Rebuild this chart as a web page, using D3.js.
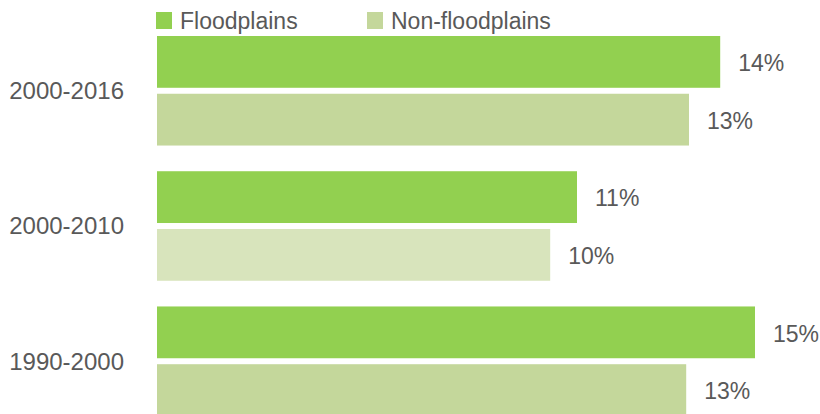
<!DOCTYPE html>
<html lang="en">
<head>
    <meta charset="UTF-8">
    <title>Floodplains vs Non-floodplains</title>
    <style>
        body { margin: 0; background: #fff; }
        text { font-family: "Liberation Sans", Arial, sans-serif; fill: #595959; }
    </style>
</head>
<body>
    <div class="graph-container"></div>

    <script type="text/javascript" src="https://d3js.org/d3.v7.min.js"></script>
    <script type="text/javascript">
        // Data.
        var periods = ["2000-2016", "2000-2010", "1990-2000"];
        var seriesNames = ["Floodplains", "Non-floodplains"];
        var floodplains = [14.08, 10.5, 14.95];
        var nonFloodplains = [13.3, 9.83, 13.23];

        var canvasWidth = 820;
        var canvasHeight = 414;
        var fontSize = 23;

        var colors = {
            "Floodplains": "#92d050",
            "Non-floodplains": "#c4d79b"
        };
        // The 2000-2010 non-floodplain bar is a paler shade in the original.
        var paleNonFlood = "#d8e4bc";

        var rows = periods.map(function(p, i) {
            return { period: p, values: [floodplains[i], nonFloodplains[i]] };
        });

        var svgCanvas = d3.select(".graph-container")
            .append("svg")
            .attr("width", canvasWidth)
            .attr("height", canvasHeight);

        var x = d3.scaleLinear()
            .domain([0, 15])
            .range([157, 757]);

        // One band per period, 110px tall (two 52px bars and a 6px gap).
        var y = d3.scaleBand()
            .domain(periods)
            .range([36, 416])
            .paddingInner(0.19)
            .paddingOuter(0);

        var ySub = d3.scaleBand()
            .domain(seriesNames)
            .range([0, y.bandwidth()])
            .paddingInner(0.1034);

        var groups = svgCanvas.append("g")
            .attr("class", "bars")
            .selectAll("g")
            .data(rows)
            .enter()
                .append("g")
                .attr("transform", function(d) { return "translate(0," + y(d.period) + ")"; });

        var cells = groups.selectAll("g")
            .data(function(d) {
                return d.values.map(function(v, i) {
                    return { period: d.period, series: seriesNames[i], value: v };
                });
            })
            .enter()
                .append("g");

        cells.append("rect")
            .attr("x", x(0))
            .attr("y", function(d) { return ySub(d.series); })
            .attr("width", function(d) { return x(d.value) - x(0); })
            .attr("height", ySub.bandwidth())
            .attr("fill", function(d) {
                if (d.period === "2000-2010" && d.series === "Non-floodplains") return paleNonFlood;
                return colors[d.series];
            });

        cells.append("text")
            .attr("x", function(d) { return x(d.value) + 18; })
            .attr("y", function(d) { return ySub(d.series) + ySub.bandwidth() / 2; })
            .attr("dy", "0.4em")
            .style("font-size", fontSize + "px")
            .text(function(d) { return Math.round(d.value) + "%"; });

        // Category labels on the left.
        svgCanvas.append("g")
            .attr("class", "categories")
            .selectAll("text")
            .data(periods)
            .enter()
                .append("text")
                .attr("x", 124)
                .attr("y", function(d) { return y(d) + y.bandwidth() / 2; })
                .attr("dy", "0.35em")
                .attr("text-anchor", "end")
                .style("font-size", "24px")
                .text(function(d) { return d; });

        // Legend along the top.
        var legendX = d3.scaleOrdinal()
            .domain(seriesNames)
            .range([156, 367]);

        var legend = svgCanvas.append("g")
            .attr("class", "legend")
            .selectAll("g")
            .data(seriesNames)
            .enter()
                .append("g")
                .attr("transform", function(d) { return "translate(" + legendX(d) + ",0)"; });

        legend.append("rect")
            .attr("y", 12)
            .attr("width", 16)
            .attr("height", 17)
            .attr("fill", function(d) { return colors[d]; });

        legend.append("text")
            .attr("x", 24)
            .attr("y", 29)
            .style("font-size", fontSize + "px")
            .text(function(d) { return d; });
    </script>
</body>
</html>
